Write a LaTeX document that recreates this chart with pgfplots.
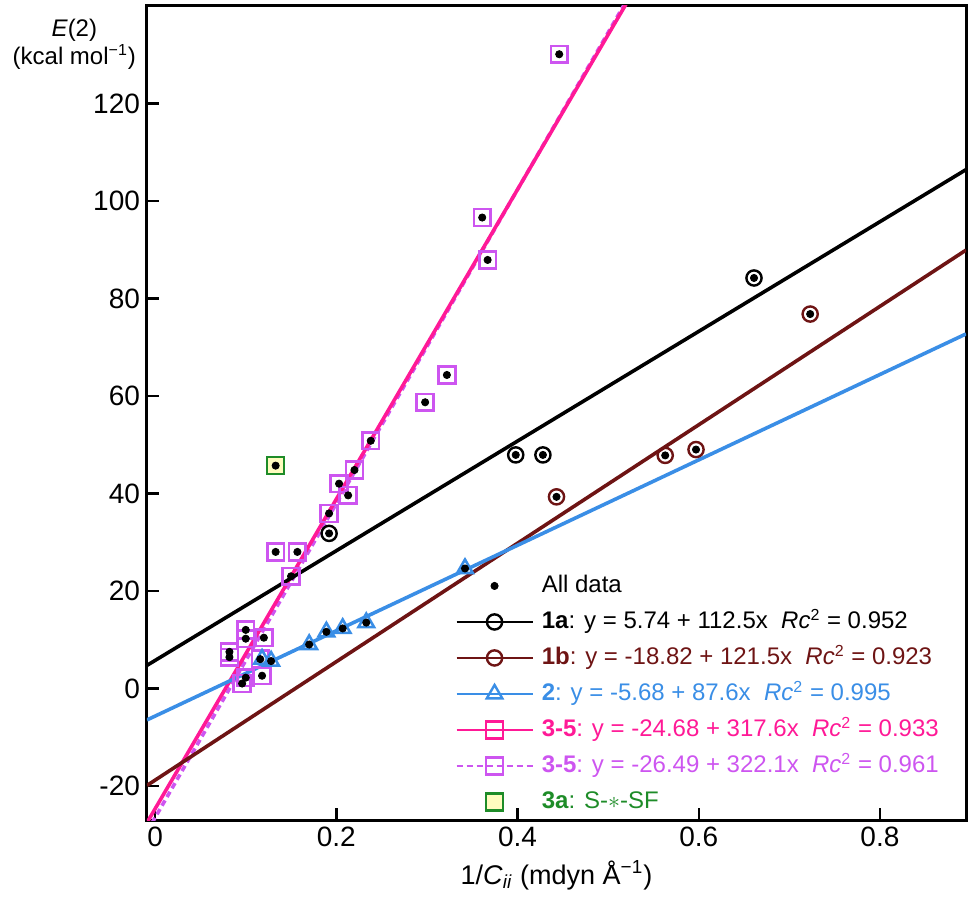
\documentclass[border=0pt]{standalone}
\usepackage{pgfplots}
\pgfplotsset{compat=1.18}
\usepackage{fontspec}
\setmainfont{Liberation Sans}
\definecolor{c1b}{RGB}{110,20,20}
\definecolor{c2}{RGB}{58,142,230}
\definecolor{c35}{RGB}{255,25,150}
\definecolor{c35d}{RGB}{205,85,240}
\definecolor{c3a}{RGB}{30,140,40}
\pgfplotsset{
  leg/.style={legend image code/.code={%
    \draw[##1,mark repeat=2,mark phase=2] plot coordinates {(0pt,0pt) (19pt,0pt) (38pt,0pt)};}},
}
\begin{document}
\begin{tikzpicture}[font=\fontsize{12}{14}\selectfont]
\begin{axis}[name=ax,
  scale only axis, width=409.5pt, height=407pt,
  xmin=-0.009, xmax=0.895, ymin=-27, ymax=140,
  xtick={0,0.2,0.4,0.6,0.8}, ytick={-20,0,20,40,60,80,100,120},
  tick align=inside, xtick pos=bottom, ytick pos=left,
  major tick length=6pt,
  axis line style={line width=1.5pt},
  every tick/.style={black, line width=1.2pt},
  tick label style={font=\fontsize{14}{16}\selectfont},
  label style={font=\fontsize{13.5}{14}\selectfont},
  /pgf/number format/assume math mode=true,
  xlabel={1/\textit{C}\textsubscript{\textit{ii}} (mdyn Å\textsuperscript{−1})},
  ylabel={\textit{E}(2)\\(kcal mol\textsuperscript{−1})},
  every axis y label/.style={at={(rel axis cs:0,1)}, anchor=north east, align=center, xshift=-2pt, yshift=-3pt},
  legend cell align=left,
  legend style={draw=none, fill=none, at={(rel axis cs:0.376,0.304)}, anchor=north west,
    inner sep=0pt, row sep=5pt, column sep=4pt,
    nodes={inner sep=0pt, text height=10pt, text depth=3pt}},
]
% legend entries
\addlegendimage{only marks, mark=*, mark size=1.8pt, black, leg}
\addlegendentry{All data}
\addlegendimage{black, line width=1.2pt, mark=o, mark size=3.8pt, leg}
\addlegendentry{\textbf{1a}: y = 5.74 + 112.5x\ \ \textit{Rc}\textsuperscript{2} = 0.952}
\addlegendimage{c1b, line width=1.2pt, mark=o, mark size=3.8pt, leg}
\addlegendentry[text=c1b]{\textbf{1b}: y = -18.82 + 121.5x\ \ \textit{Rc}\textsuperscript{2} = 0.923}
\addlegendimage{c2, line width=1.2pt, mark=triangle, mark size=4.5pt, leg}
\addlegendentry[text=c2]{\textbf{2}: y = -5.68 + 87.6x\ \ \textit{Rc}\textsuperscript{2} = 0.995}
\addlegendimage{c35, line width=1.2pt, mark=square, mark size=4.2pt, leg}
\addlegendentry[text=c35]{\textbf{3-5}: y = -24.68 + 317.6x\ \ \textit{Rc}\textsuperscript{2} = 0.933}
\addlegendimage{c35d, line width=1.2pt, dash pattern=on 3pt off 2pt, mark=square, mark size=4.2pt, mark options={solid}, leg}
\addlegendentry[text=c35d]{\textbf{3-5}: y = -26.49 + 322.1x\ \ \textit{Rc}\textsuperscript{2} = 0.961}
\addlegendimage{only marks, mark=square*, mark size=4.2pt, mark options={draw=c3a, fill=yellow!25, line width=1.2pt}, leg}
\addlegendentry[text=c3a]{\textbf{3a}: S-$\ast$-SF}

% regression lines
\addplot[forget plot, c35d, line width=1.8pt, dash pattern=on 3pt off 2pt] coordinates {(-0.009,-29.389) (0.53,144.22)};
\addplot[forget plot, c35, line width=1.8pt] coordinates {(-0.009,-27.538) (0.53,143.65)};
\addplot[forget plot, black, line width=1.8pt] coordinates {(-0.009,4.728) (0.895,106.43)};
\addplot[forget plot, c1b, line width=1.8pt] coordinates {(-0.009,-19.91) (0.895,89.92)};
\addplot[forget plot, c2, line width=1.8pt] coordinates {(-0.009,-6.468) (0.895,72.72)};

% group markers
\addplot[forget plot, only marks, mark=square, mark size=4.2pt, c35d, mark options={line width=1.3pt}] coordinates {
(0.082,7.5) (0.082,6.4) (0.100,12.0) (0.100,10.2) (0.120,10.4) (0.116,6.0)
(0.100,2.2) (0.118,2.6) (0.096,1.0) (0.133,28.0) (0.157,28.0) (0.150,23.0)
(0.192,35.9) (0.213,39.6) (0.203,42.0) (0.220,44.8) (0.238,50.8) (0.298,58.7)
(0.322,64.3) (0.361,96.6) (0.367,87.9) (0.446,130.1)};
\addplot[forget plot, only marks, mark=o, mark size=3.8pt, black, mark options={line width=1.2pt}] coordinates {
(0.192,31.8) (0.398,47.9) (0.428,47.9) (0.661,84.2)};
\addplot[forget plot, only marks, mark=o, mark size=3.8pt, c1b, mark options={line width=1.2pt}] coordinates {
(0.443,39.3) (0.563,47.8) (0.597,49.0) (0.723,76.8)};
\addplot[forget plot, only marks, mark=triangle, mark size=4.5pt, c2, mark options={line width=1.3pt}] coordinates {
(0.118,6.0) (0.128,5.6) (0.170,9.0) (0.189,11.6) (0.207,12.3) (0.233,13.5) (0.342,24.6)};
\addplot[forget plot, only marks, mark=square*, mark size=4.2pt, mark options={draw=c3a, fill=yellow!25, line width=1.2pt}] coordinates {
(0.133,45.7)};

% all data points
\addplot[forget plot, only marks, mark=*, mark size=1.8pt, black] coordinates {
(0.082,7.5) (0.082,6.4) (0.100,12.0) (0.100,10.2) (0.120,10.4) (0.116,6.0)
(0.100,2.2) (0.118,2.6) (0.096,1.0) (0.133,28.0) (0.157,28.0) (0.150,23.0)
(0.192,35.9) (0.213,39.6) (0.203,42.0) (0.220,44.8) (0.238,50.8) (0.298,58.7)
(0.322,64.3) (0.361,96.6) (0.367,87.9) (0.446,130.1)
(0.192,31.8) (0.398,47.9) (0.428,47.9) (0.661,84.2)
(0.443,39.3) (0.563,47.8) (0.597,49.0) (0.723,76.8)
(0.128,5.6) (0.170,9.0) (0.189,11.6) (0.207,12.3) (0.233,13.5) (0.342,24.6)
(0.133,45.7)};
\end{axis}
\path (ax.south west) +(-73.5pt,-36pt) (ax.north east) +(6.5pt,3pt);
\end{tikzpicture}
\end{document}
